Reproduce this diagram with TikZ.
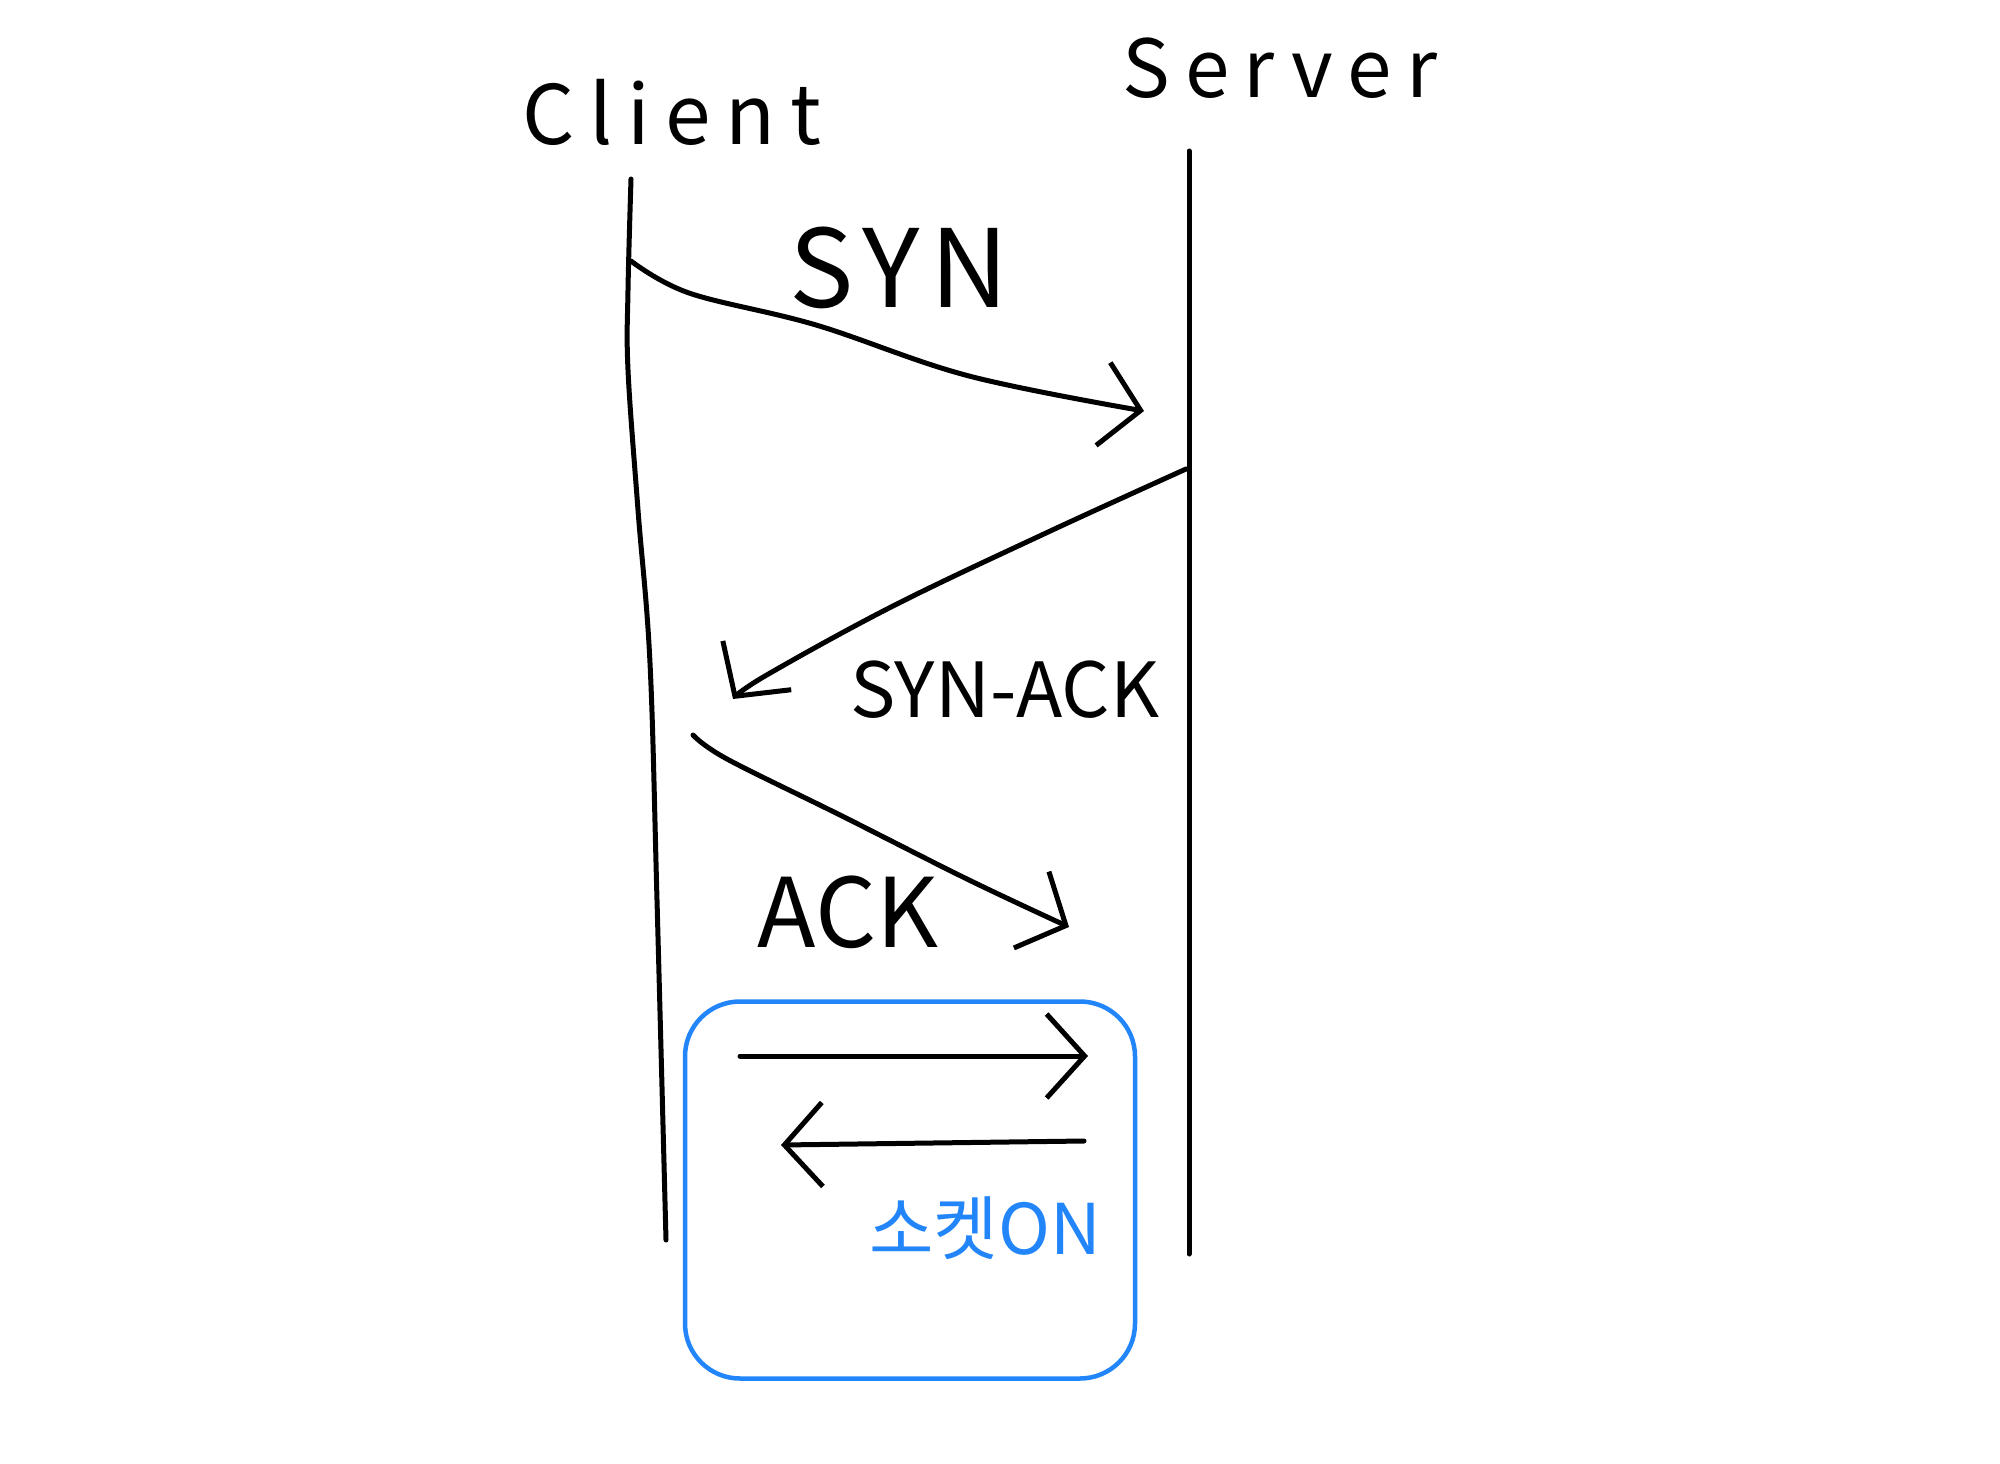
\documentclass[tikz,border=0pt]{standalone}
\usepackage{fontspec}
\setmainfont{Noto Sans CJK KR}
\usetikzlibrary{arrows.meta}
\definecolor{penblue}{RGB}{34,134,250}
\tikzset{
  ink/.style={line width=5pt, line cap=round, line join=round, black},
  msg/.style={ink, -{Straight Barb[length=38pt,width=84pt,line width=5pt]}},
  lbl/.style={inner sep=0pt, black},
  sockbox/.style={draw=penblue, line width=4.5pt, rounded corners=55pt, minimum width=450pt, minimum height=377pt, inner sep=0pt},
}
\begin{document}
\begin{tikzpicture}[x=1pt,y=-1pt]
\useasboundingbox[fill=white] (0,0) rectangle (2000,1464);
% labels
\node[lbl, font=\fontsize{82}{90}\selectfont\addfontfeature{LetterSpace=18}] (client) at (672,112) {Client};
\node[lbl, font=\fontsize{80}{90}\selectfont\addfontfeature{LetterSpace=18}] (server) at (1280,68) {Server};
% lifelines
\coordinate (ctop) at (631,179);
\coordinate (cbot) at (666,1240);
\coordinate (stop) at (1189,151);
\coordinate (sbot) at (1189,1254);
\draw[ink] plot[smooth, tension=0.6] coordinates {(ctop) (628,290) (628,370) (638,510) (650,663) (657,900) (cbot)};
\draw[ink] (stop) -- (sbot);
% handshake messages
\coordinate (syn1) at (631,261);
\coordinate (syn2) at (1144,411);
\coordinate (sa1) at (1186,469);
\coordinate (sa2) at (733,699);
\coordinate (ack1) at (693,735);
\coordinate (ack2) at (1069,927);
\draw[msg] plot[smooth, tension=0.6] coordinates {(syn1) (689,293) (816,325) (969,376) (syn2)};
\draw[msg] plot[smooth, tension=0.6] coordinates {(sa1) (1046,533) (893,606) (765,676) (sa2)};
\draw[msg] plot[smooth, tension=0.6] coordinates {(ack1) (727,759) (842,816) (969,880) (ack2)};
\node[lbl, font=\fontsize{108}{120}\selectfont\addfontfeature{LetterSpace=10}] (synl) at (899,268) {SYN};
\node[lbl, font=\fontsize{76}{90}\selectfont] (sal) at (1005,690) {SYN-ACK};
\node[lbl, font=\fontsize{96}{110}\selectfont] (ackl) at (848,912) {ACK};
% socket box
\node[sockbox] (box) at (910,1190) {};
\coordinate (d1) at (740,1056);
\coordinate (d2) at (1088,1056);
\coordinate (e1) at (1084,1141);
\coordinate (e2) at (781,1145);
\draw[msg] (d1) -- (d2);
\draw[msg] (e1) -- (e2);
\node[lbl, text=penblue, font=\fontsize{70}{80}\selectfont] (sock) at (985,1228) {소켓ON};
\end{tikzpicture}
\end{document}
